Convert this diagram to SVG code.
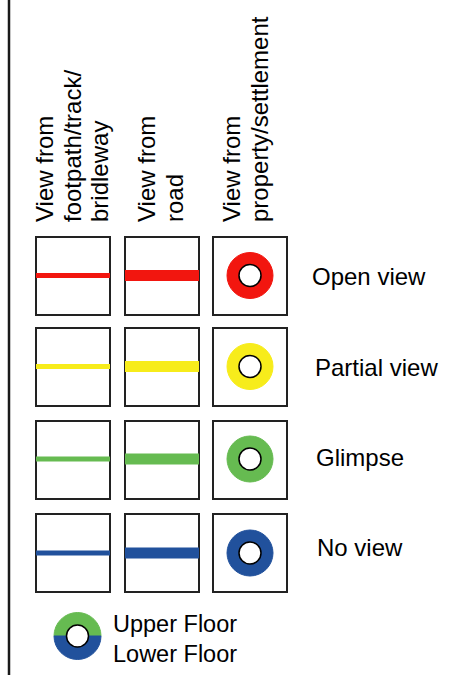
<svg xmlns="http://www.w3.org/2000/svg" width="461" height="675" viewBox="0 0 461 675">
<style>
text{font-family:"Liberation Sans",Arial,sans-serif;font-size:24px;fill:#000}
.box{fill:#fff;stroke:#222;stroke-width:2}
.thin{stroke-width:5}
.thick{stroke-width:11}
.hole{fill:#fff;stroke:#000;stroke-width:1.5}
.red{stroke:#f2160f;fill:#f2160f}
.yel{stroke:#f7ec1b;fill:#f7ec1b}
.grn{stroke:#66bb51;fill:#66bb51}
.blu{stroke:#21519c;fill:#21519c}
</style>
<rect width="461" height="675" fill="#fff"/>
<line x1="9" y1="0" x2="9" y2="675" stroke="#1a1a1a" stroke-width="2.5"/>
<g id="headers">
<text transform="translate(53,222) rotate(-90)"><tspan x="0" y="0">View from</tspan><tspan x="0" dy="27.5">footpath/track/</tspan><tspan x="0" dy="27.5">bridleway</tspan></text>
<text transform="translate(155,222) rotate(-90)"><tspan x="0" y="0">View from</tspan><tspan x="0" dy="28">road</tspan></text>
<text transform="translate(240,222) rotate(-90)"><tspan x="0" y="0">View from</tspan><tspan x="0" dy="28">property/settlement</tspan></text>
</g>
<g id="row-open">
<rect class="box" x="36" y="237" width="74" height="78"/>
<rect class="box" x="125" y="237" width="74" height="78"/>
<rect class="box" x="213" y="237" width="74" height="78"/>
<line class="red thin" x1="36" y1="275.5" x2="110" y2="275.5"/>
<line class="red thick" x1="125" y1="275.5" x2="199" y2="275.5"/>
<circle class="red" cx="250" cy="275.5" r="23" stroke="none"/>
<circle class="hole" cx="250" cy="275.5" r="11"/>
<text x="312" y="285">Open view</text>
</g>
<g id="row-partial">
<rect class="box" x="36" y="328" width="74" height="78"/>
<rect class="box" x="125" y="328" width="74" height="78"/>
<rect class="box" x="213" y="328" width="74" height="78"/>
<line class="yel thin" x1="36" y1="366.5" x2="110" y2="366.5"/>
<line class="yel thick" x1="125" y1="366.5" x2="199" y2="366.5"/>
<circle class="yel" cx="250" cy="366.5" r="23" stroke="none"/>
<circle class="hole" cx="250" cy="366.5" r="11"/>
<text x="315" y="376">Partial view</text>
</g>
<g id="row-glimpse">
<rect class="box" x="36" y="421" width="74" height="78"/>
<rect class="box" x="125" y="421" width="74" height="78"/>
<rect class="box" x="213" y="421" width="74" height="78"/>
<line class="grn thin" x1="36" y1="459" x2="110" y2="459"/>
<line class="grn thick" x1="125" y1="459" x2="199" y2="459"/>
<circle class="grn" cx="250" cy="459" r="23" stroke="none"/>
<circle class="hole" cx="250" cy="459" r="11"/>
<text x="316" y="466">Glimpse</text>
</g>
<g id="row-noview">
<rect class="box" x="36" y="514" width="74" height="78"/>
<rect class="box" x="125" y="514" width="74" height="78"/>
<rect class="box" x="213" y="514" width="74" height="78"/>
<line class="blu thin" x1="36" y1="553" x2="110" y2="553"/>
<line class="blu thick" x1="125" y1="553" x2="199" y2="553"/>
<circle class="blu" cx="250" cy="553" r="23" stroke="none"/>
<circle class="hole" cx="250" cy="553" r="11"/>
<text x="317" y="556">No view</text>
</g>
<g id="legend-floor">
<path class="grn" stroke="none" d="M54 636 A23.5 23.5 0 0 1 101 636 Z"/>
<path class="blu" stroke="none" d="M54 636 A23.5 23.5 0 0 0 101 636 Z"/>
<circle class="hole" cx="77.5" cy="636" r="11"/>
<text x="113" y="632" style="font-size:23.5px">Upper Floor</text>
<text x="113" y="662" style="font-size:23.5px">Lower Floor</text>
</g>
<g id="connectors"/>
</svg>
